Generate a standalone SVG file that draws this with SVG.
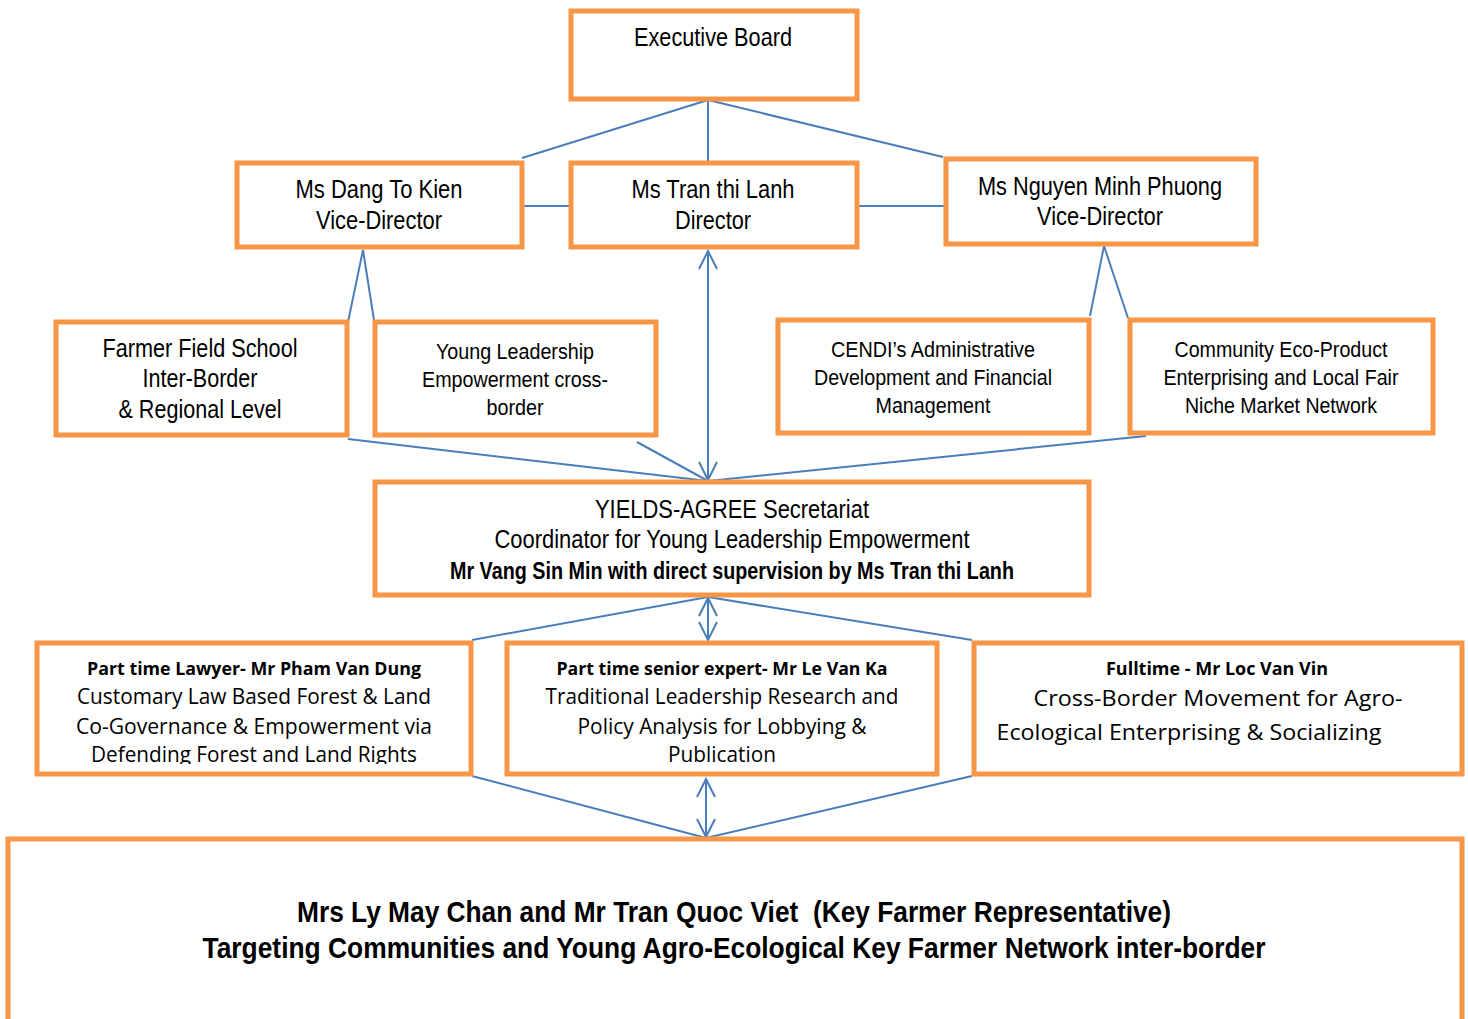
<svg xmlns="http://www.w3.org/2000/svg" width="1468" height="1019" viewBox="0 0 1468 1019">
<style>
.box{fill:#fff;stroke:#F79646;stroke-width:5}
.n{font-family:"Liberation Sans",Arial,sans-serif;font-size:25px;fill:#000;text-anchor:middle}
.s{font-family:"Liberation Sans",Arial,sans-serif;font-size:22px;fill:#000;text-anchor:middle}
.c{font-family:"Open Sans","Noto Sans",sans-serif;font-size:21px;fill:#000;text-anchor:middle}
.cb{font-family:"Open Sans","Noto Sans",sans-serif;font-size:18px;font-weight:bold;fill:#000;text-anchor:middle}
.b{font-family:"Liberation Sans",Arial,sans-serif;font-weight:bold;fill:#000;text-anchor:middle}
.ln{stroke:#4A7EBB;stroke-width:2;fill:none}
</style>
<defs>
<marker id="ah" viewBox="0 0 22 22" refX="20" refY="11" markerWidth="22" markerHeight="22" markerUnits="userSpaceOnUse" orient="auto-start-reverse">
<polyline points="2,2 20,11 2,20" fill="none" stroke="#4A7EBB" stroke-width="2"/>
</marker>
<clipPath id="clipLawyer"><rect x="37" y="643" width="434" height="121"/></clipPath>
</defs>
<rect width="1468" height="1019" fill="#fff"/>
<g id="connectors">
<line class="ln" x1="708" y1="100" x2="522" y2="158"/>
<line class="ln" x1="708" y1="100" x2="943" y2="157"/>
<line class="ln" x1="708" y1="100" x2="708" y2="162"/>
<line class="ln" x1="522" y1="206" x2="570" y2="206"/>
<line class="ln" x1="857" y1="206" x2="945" y2="206"/>
<line class="ln" x1="363" y1="250" x2="348" y2="322"/>
<line class="ln" x1="363" y1="250" x2="374" y2="320"/>
<line class="ln" x1="1104" y1="246" x2="1090" y2="316"/>
<line class="ln" x1="1104" y1="246" x2="1128" y2="318"/>
<line class="ln" x1="708" y1="251" x2="708" y2="480" marker-start="url(#ah)" marker-end="url(#ah)"/>
<line class="ln" x1="348" y1="439" x2="708" y2="481"/>
<line class="ln" x1="637" y1="442" x2="708" y2="481"/>
<line class="ln" x1="1146" y1="436" x2="708" y2="481"/>
<line class="ln" x1="708" y1="597" x2="472" y2="640"/>
<line class="ln" x1="708" y1="597" x2="972" y2="640"/>
<line class="ln" x1="708" y1="598" x2="708" y2="640" marker-start="url(#ah)" marker-end="url(#ah)"/>
<line class="ln" x1="472" y1="776" x2="706" y2="838"/>
<line class="ln" x1="972" y1="776" x2="706" y2="838"/>
<line class="ln" x1="706" y1="779" x2="706" y2="837" marker-start="url(#ah)" marker-end="url(#ah)"/>
</g>
<g id="executive-board">
<rect class="box" x="571" y="11" width="286" height="88"/>
<text class="n" x="713" y="46" textLength="158" lengthAdjust="spacingAndGlyphs">Executive Board</text>
</g>
<g id="dang-to-kien">
<rect class="box" x="237" y="163" width="285" height="84"/>
<text class="n" x="379" y="198" textLength="167" lengthAdjust="spacingAndGlyphs">Ms Dang To Kien</text>
<text class="n" x="379" y="229" textLength="126" lengthAdjust="spacingAndGlyphs">Vice-Director</text>
</g>
<g id="tran-thi-lanh">
<rect class="box" x="571" y="163" width="286" height="84"/>
<text class="n" x="713" y="198" textLength="163" lengthAdjust="spacingAndGlyphs">Ms Tran thi Lanh</text>
<text class="n" x="713" y="229" textLength="76" lengthAdjust="spacingAndGlyphs">Director</text>
</g>
<g id="nguyen-minh-phuong">
<rect class="box" x="946" y="159" width="310" height="85"/>
<text class="n" x="1100" y="195" textLength="244" lengthAdjust="spacingAndGlyphs">Ms Nguyen Minh Phuong</text>
<text class="n" x="1100" y="225" textLength="126" lengthAdjust="spacingAndGlyphs">Vice-Director</text>
</g>
<g id="farmer-field-school">
<rect class="box" x="56" y="322" width="291" height="113"/>
<text class="n" x="200" y="357" textLength="195" lengthAdjust="spacingAndGlyphs">Farmer Field School</text>
<text class="n" x="200" y="387" textLength="115" lengthAdjust="spacingAndGlyphs">Inter-Border</text>
<text class="n" x="200" y="418" textLength="163" lengthAdjust="spacingAndGlyphs">&amp; Regional Level</text>
</g>
<g id="young-leadership">
<rect class="box" x="375" y="322" width="281" height="113"/>
<text class="s" x="515" y="359" textLength="158" lengthAdjust="spacingAndGlyphs">Young Leadership</text>
<text class="s" x="515" y="387" textLength="186" lengthAdjust="spacingAndGlyphs">Empowerment cross-</text>
<text class="s" x="515" y="415" textLength="57" lengthAdjust="spacingAndGlyphs">border</text>
</g>
<g id="cendi-admin">
<rect class="box" x="778" y="320" width="311" height="113"/>
<text class="s" x="933" y="357" textLength="204" lengthAdjust="spacingAndGlyphs">CENDI’s Administrative</text>
<text class="s" x="933" y="385" textLength="238" lengthAdjust="spacingAndGlyphs">Development and Financial</text>
<text class="s" x="933" y="413" textLength="115" lengthAdjust="spacingAndGlyphs">Management</text>
</g>
<g id="community-eco-product">
<rect class="box" x="1130" y="320" width="303" height="113"/>
<text class="s" x="1281" y="357" textLength="213" lengthAdjust="spacingAndGlyphs">Community Eco-Product</text>
<text class="s" x="1281" y="385" textLength="235" lengthAdjust="spacingAndGlyphs">Enterprising and Local Fair</text>
<text class="s" x="1281" y="413" textLength="192" lengthAdjust="spacingAndGlyphs">Niche Market Network</text>
</g>
<g id="secretariat">
<rect class="box" x="375" y="482" width="714" height="113"/>
<text class="n" x="732" y="518" textLength="274" lengthAdjust="spacingAndGlyphs">YIELDS-AGREE Secretariat</text>
<text class="n" x="732" y="548" textLength="475" lengthAdjust="spacingAndGlyphs">Coordinator for Young Leadership Empowerment</text>
<text class="b" x="732" y="579" font-size="23" textLength="564" lengthAdjust="spacingAndGlyphs">Mr Vang Sin Min with direct supervision by Ms Tran thi Lanh</text>
</g>
<g id="lawyer">
<rect class="box" x="37" y="643" width="434" height="131"/>
<text class="cb" x="254" y="675" textLength="334" lengthAdjust="spacingAndGlyphs">Part time Lawyer- Mr Pham Van Dung</text>
<text class="c" x="254" y="704" textLength="354" lengthAdjust="spacingAndGlyphs">Customary Law Based Forest &amp; Land</text>
<text class="c" x="254" y="734" textLength="356" lengthAdjust="spacingAndGlyphs">Co-Governance &amp; Empowerment via</text>
<text class="c" x="254" y="762" textLength="326" lengthAdjust="spacingAndGlyphs" clip-path="url(#clipLawyer)">Defending Forest and Land Rights</text>
</g>
<g id="senior-expert">
<rect class="box" x="507" y="643" width="430" height="131"/>
<text class="cb" x="722" y="675" textLength="331" lengthAdjust="spacingAndGlyphs">Part time senior expert- Mr Le Van Ka</text>
<text class="c" x="722" y="704" textLength="353" lengthAdjust="spacingAndGlyphs">Traditional Leadership Research and</text>
<text class="c" x="722" y="734" textLength="289" lengthAdjust="spacingAndGlyphs">Policy Analysis for Lobbying &amp;</text>
<text class="c" x="722" y="762" textLength="108" lengthAdjust="spacingAndGlyphs">Publication</text>
</g>
<g id="fulltime">
<rect class="box" x="974" y="643" width="488" height="131"/>
<text class="cb" x="1217" y="675" textLength="222" lengthAdjust="spacingAndGlyphs">Fulltime - Mr Loc Van Vin</text>
<text class="c" x="1218" y="706" font-size="24" textLength="369" lengthAdjust="spacingAndGlyphs">Cross-Border Movement for Agro-</text>
<text class="c" x="1189" y="740" font-size="24" textLength="385" lengthAdjust="spacingAndGlyphs">Ecological Enterprising &amp; Socializing</text>
</g>
<g id="key-farmers">
<rect class="box" x="8" y="839" width="1454" height="200"/>
<text class="b" x="734" y="922" font-size="30" textLength="874" lengthAdjust="spacingAndGlyphs">Mrs Ly May Chan and Mr Tran Quoc Viet&#160; (Key Farmer Representative)</text>
<text class="b" x="734" y="958" font-size="30" textLength="1063" lengthAdjust="spacingAndGlyphs">Targeting Communities and Young Agro-Ecological Key Farmer Network inter-border</text>
</g>
</svg>
